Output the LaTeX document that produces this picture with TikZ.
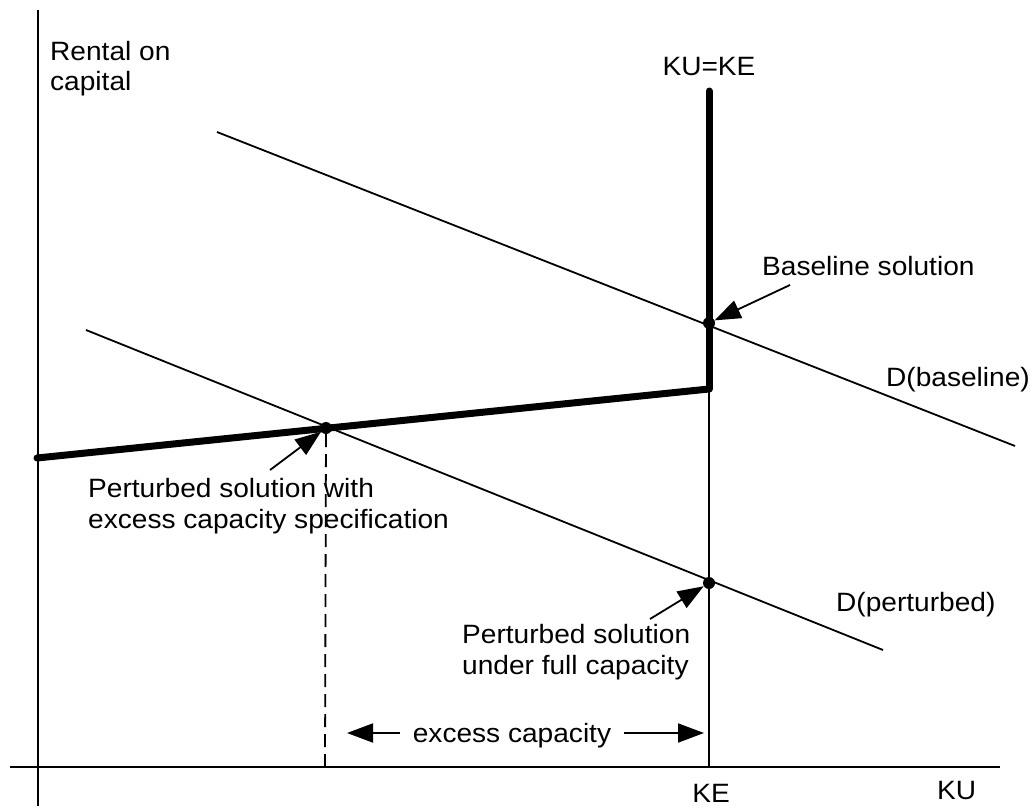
\documentclass[tikz,border=0pt]{standalone}
\usepackage{fontspec}
\setmainfont{Liberation Sans}[FakeStretch=1.06]
\usetikzlibrary{arrows.meta}
\begin{document}
\begin{tikzpicture}[x=1pt,y=-1pt,
  thin line/.style={line width=1.8pt},
  thick line/.style={line width=7pt},
  dot/.style={circle,fill=black,inner sep=0pt,minimum size=12pt},
  lbl/.style={inner sep=0pt,font=\fontsize{26.5}{31}\selectfont,align=left},
  pointer/.style={line width=1.8pt,-{Triangle[length=26pt,width=19pt]}}]
\useasboundingbox (0,0) rectangle (1036,808);
% axes
\coordinate (ytop) at (38,10);
\coordinate (ybot) at (38,806);
\coordinate (xl) at (10,767);
\coordinate (xr) at (1000,767);
\draw[line width=2pt] (ytop) -- (ybot);
\draw[line width=2pt] (xl) -- (xr);
% key points
\coordinate (cornerL) at (37,458);
\coordinate (corner) at (709,389);
\coordinate (vtop) at (709,91);
\coordinate (keaxis) at (709,767);
\coordinate (dbs) at (217,132);
\coordinate (dbe) at (1015,446);
\coordinate (dps) at (86,330);
\coordinate (dpe) at (883,650);
\coordinate (exaxis) at (325,767);
% demand curves
\draw[thin line] (dbs) -- (dbe);
\draw[thin line] (dps) -- (dpe);
% supply
\draw[thin line] (corner) -- (keaxis);
\draw[thick line,line cap=round] (cornerL) -- (corner);
\draw[thick line,line cap=round] (vtop) -- (corner);
% dots
\node[dot] (base) at (709,323) {};
\node[dot] (pex) at (326,428) {};
\node[dot] (pfull) at (709,583) {};
% dashed
\draw[thin line,dash pattern=on 13pt off 7pt] (pex) -- (exaxis);
% labels (base = last line)
\node[lbl,anchor=base west] (rent) at (50,91) {Rental on\\capital};
\node[lbl,anchor=base] (kuke) at (709,75) {KU=KE};
\node[lbl,anchor=base west] (bsl) at (762,275) {Baseline solution};
\node[lbl,anchor=base east] (dbl) at (1030,386) {D(baseline)};
\node[lbl,anchor=base west] (pws) at (88,528) {Perturbed solution with\\excess capacity specification};
\node[lbl,anchor=base west] (dpl) at (836,611) {D(perturbed)};
\node[lbl,anchor=base west] (pfs) at (462,674) {Perturbed solution\\under full capacity};
\node[lbl,anchor=base] (exc) at (512,742) {excess capacity};
\node[lbl,anchor=base] (ke) at (711,802) {KE};
\node[lbl,anchor=base west] (ku) at (937,799) {KU};
% pointers
\coordinate (a1) at (790,285);
\coordinate (a2) at (270,470);
\coordinate (a3) at (650,619);
\draw[pointer] (a1) -- (base);
\draw[pointer] (a2) -- (pex);
\draw[pointer] (a3) -- (pfull);
\coordinate (exlt) at (400,733);
\coordinate (exrt) at (624,733);
\coordinate (exl) at (347,733);
\coordinate (exr) at (704,733);
\draw[pointer] (exlt) -- (exl);
\draw[pointer] (exrt) -- (exr);
\end{tikzpicture}
\end{document}
